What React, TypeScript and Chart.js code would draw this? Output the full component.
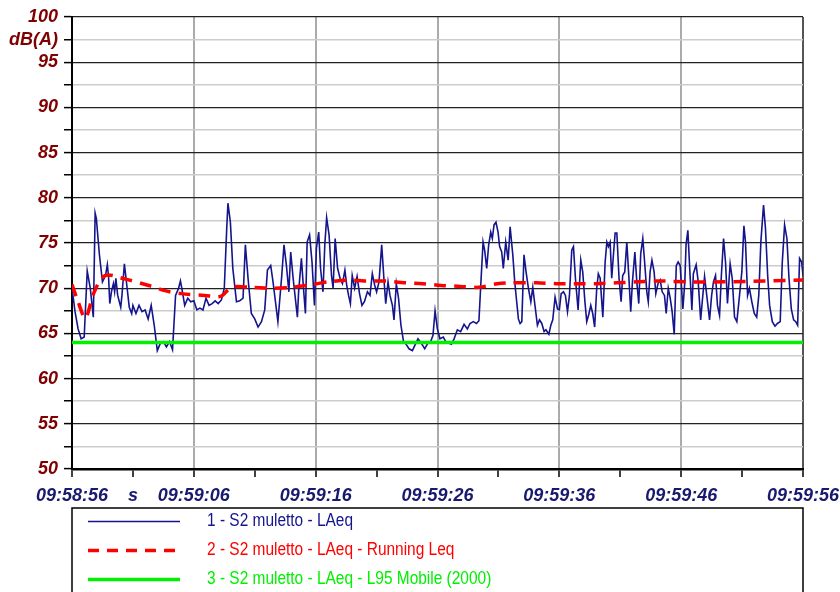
import React, { useEffect, useRef } from "react";
import { Chart, registerables } from "chart.js";

Chart.register(...registerables);

// ---- data ----
const xTickLabels = ["09:58:56", "09:59:06", "09:59:16", "09:59:26", "09:59:36", "09:59:46", "09:59:56"];
const xUnitLabel = "s";
const yUnitLabel = "dB(A)";
const seriesNames = [
  "1 - S2 muletto - LAeq",
  "2 - S2 muletto - LAeq - Running Leq",
  "3 - S2 muletto - LAeq - L95 Mobile (2000)",
];

// seconds after 09:58:56
const laeqTimes = [
  0, 0.25, 0.5, 0.75, 1.0, 1.25, 1.5, 1.75, 1.9, 2.0, 2.25, 2.5, 2.75, 2.9, 3.0, 3.1, 3.25, 3.4, 3.5, 3.6, 3.75,
  4.0, 4.1, 4.3, 4.5, 4.7, 4.9, 5.0, 5.25, 5.5, 5.75, 6.0, 6.25, 6.5, 6.75, 7.0, 7.25, 7.5, 7.75, 8.0, 8.25,
  8.5, 8.75, 8.9, 9.0, 9.25, 9.5, 9.75, 10.0, 10.25, 10.5, 10.75, 11.0, 11.25, 11.5, 11.75,
  12.0, 12.26, 12.5, 12.7, 12.8, 13.0, 13.2, 13.5, 13.77, 14.04, 14.23, 14.45, 14.72, 15.0, 15.27, 15.55, 15.82,
  16.04, 16.31, 16.5, 16.7, 16.9, 17.2, 17.4, 17.6, 17.8, 17.95, 18.15, 18.5, 18.6, 18.83, 19.0, 19.16, 19.3,
  19.5, 19.7, 19.9, 20.06, 20.25, 20.4, 20.6, 20.75, 20.9, 21.1, 21.3, 21.43, 21.6, 21.8, 22.0, 22.2, 22.4,
  22.55, 22.7, 22.85, 23.0, 23.2, 23.4, 23.6, 23.8,
  24.0, 24.25, 24.46, 24.65, 24.85, 25.0, 25.2, 25.42, 25.6, 25.75, 25.94, 26.1, 26.3, 26.43, 26.62, 26.8,
  27.0, 27.2, 27.47, 27.66, 27.94, 28.15, 28.4, 28.68, 28.95, 29.2, 29.44, 29.63, 29.8, 29.99, 30.2, 30.48,
  30.67, 30.95, 31.14, 31.36, 31.63, 31.9, 32.18, 32.45, 32.67, 32.94, 33.2, 33.4, 33.55, 33.74, 33.87, 34.04,
  34.2, 34.37, 34.5, 34.64, 34.8, 34.97, 35.1, 35.27, 35.4, 35.6, 35.8,
  35.96, 36.18, 36.34, 36.5, 36.64, 36.78, 36.92, 37.1, 37.27, 37.46, 37.66, 37.82, 38.0, 38.2, 38.37, 38.56,
  38.75, 38.9, 39.14, 39.3, 39.46, 39.65, 39.85, 40.0, 40.15, 40.34, 40.5, 40.67, 40.83, 41.02, 41.16, 41.32,
  41.54, 41.76, 41.92, 42.1, 42.25, 42.4, 42.58, 42.74, 42.9, 43.07, 43.2, 43.35, 43.57, 43.76, 43.9, 44.03,
  44.17, 44.3, 44.44, 44.58, 44.72, 44.9, 45.07, 45.2, 45.37, 45.54, 45.7, 45.86, 46.0, 46.2, 46.36, 46.52,
  46.68, 46.85, 47.0, 47.18, 47.3, 47.45, 47.6, 47.78, 47.92,
  48.1, 48.28, 48.44, 48.63, 48.77, 48.94, 49.1, 49.26, 49.43, 49.6, 49.75, 49.92, 50.14, 50.3, 50.4, 50.55,
  50.7, 50.88, 51.0, 51.23, 51.4, 51.6, 51.73, 51.92, 52.1, 52.33, 52.5, 52.65, 52.82, 52.98, 53.15, 53.3,
  53.48, 53.64, 53.8, 54.02, 54.19, 54.38, 54.57, 54.79, 54.98, 55.15, 55.28, 55.45, 55.6, 55.8, 56.0, 56.2,
  56.37, 56.54, 56.76, 56.92, 57.1, 57.26, 57.48, 57.7, 57.9, 58.13, 58.3, 58.49, 58.68, 58.85, 59.04, 59.23,
  59.4, 59.56, 59.72, 59.89, 60.0,
];
const laeqValues = [
  70.0, 67.4, 65.5, 64.4, 64.6, 71.9, 70.0, 66.8, 78.3, 77.7, 73.7, 70.7, 71.4, 72.6, 71.3, 68.3, 69.7, 70.5, 69.6, 71.1, 69.2,
  67.9, 69.2, 72.7, 70.3, 67.9, 67.2, 68.1, 67.2, 68.1, 67.4, 67.6, 66.6, 68.1, 65.9, 63.1, 63.9, 64.1, 63.5, 64.1, 63.2,
  69.2, 70.0, 70.8, 70.1, 68.1, 68.9, 68.5, 68.6, 67.6, 67.8, 67.6, 68.9, 68.1, 68.3, 68.6,
  68.3, 68.7, 70.0, 76.6, 79.4, 77.3, 72.2, 68.5, 68.6, 68.9, 74.8, 71.1, 67.2, 66.6, 65.7, 66.3, 67.6,
  72.0, 72.5, 70.7, 68.5, 66.3, 71.1, 74.8, 72.5, 69.6, 74.0, 71.1, 66.8, 69.6, 73.3, 70.0, 67.2, 75.1,
  75.9, 72.9, 68.1, 74.4, 76.2, 72.2, 69.6, 74.8, 77.8, 75.9, 71.4, 70.0, 75.5, 72.2, 71.1, 70.5, 72.0,
  70.3, 69.2, 68.3, 71.4, 70.0, 71.3, 69.4, 68.1,
  68.5, 69.6, 69.2, 71.6, 70.3, 69.6, 70.7, 74.8, 71.1, 68.3, 70.7, 69.2, 68.1, 66.5, 70.5, 68.9,
  65.9, 64.2, 63.7, 63.3, 63.1, 63.7, 64.4, 63.9, 63.3, 63.9, 64.1, 64.8, 67.5, 65.5, 64.4, 64.6,
  64.1, 63.9, 63.8, 64.4, 65.4, 65.2, 66.0, 65.5, 66.1, 66.3, 66.1, 66.4, 70.3, 75.1, 74.2, 72.2,
  74.8, 76.2, 75.5, 77.0, 77.3, 76.2, 74.6, 74.0, 72.2, 75.1, 73.1,
  76.8, 73.7, 70.7, 68.5, 66.6, 66.1, 66.3, 73.7, 71.8, 70.0, 68.5, 70.1, 68.1, 65.9, 66.5, 66.1,
  65.2, 65.4, 64.9, 65.9, 66.5, 69.0, 67.7, 67.6, 69.4, 69.6, 69.2, 67.4, 69.2, 74.2, 74.6, 71.1,
  67.6, 73.1, 71.8, 68.5, 66.3, 67.0, 68.1, 67.2, 65.7, 70.0, 71.6, 71.1, 66.8, 72.9, 75.1, 74.6,
  75.1, 71.1, 73.7, 76.1, 76.1, 71.1, 68.5, 71.4, 71.8, 75.1, 71.4, 67.4, 70.7, 74.0, 70.7, 68.3,
  73.8, 75.5, 72.9, 69.6, 68.5, 71.8, 73.1, 71.8, 69.4,
  70.5, 70.9, 69.6, 69.2, 67.2, 70.0, 68.9, 67.4, 64.9, 72.5, 72.9, 72.5, 67.7, 70.7, 74.8, 76.4,
  72.2, 67.6, 71.6, 72.6, 70.7, 66.5, 68.5, 71.3, 69.2, 66.5, 69.2, 70.7, 71.4, 68.1, 67.0, 71.4,
  75.5, 72.9, 68.3, 72.7, 71.1, 66.8, 66.3, 69.2, 71.8, 76.9, 75.1, 69.2, 70.0, 68.5, 67.2, 66.8,
  69.2, 75.1, 79.2, 76.6, 71.4, 68.1, 66.3, 65.8, 66.1, 66.3, 72.9, 77.0, 75.5, 71.1, 67.7, 66.5,
  66.3, 65.9, 73.3, 72.9, 71.4,
];

const runningTimes = [
  0, 0.5, 1.1, 1.8, 2.7, 4.4, 6.3, 7.7, 9.0, 10.9, 12.2, 13.1, 14.7, 16.4, 18.0, 19.7, 21.0, 22.7, 24.0,
  25.6, 27.3, 28.8, 30.3, 31.9, 33.4, 34.9, 36.0, 38.1, 39.8, 41.4, 43.1, 44.7, 46.4, 48.0, 50.7, 53.5, 56.8, 60,
];
const runningValues = [
  70.4, 68.5, 66.7, 69.5, 71.4, 71.0, 70.3, 69.7, 69.4, 69.2, 69.1, 70.1, 70.1, 70.0, 70.1, 70.4, 70.7, 70.9, 70.8,
  70.8, 70.6, 70.5, 70.3, 70.2, 70.1, 70.5, 70.6, 70.6, 70.5, 70.5, 70.5, 70.6, 70.7, 70.8, 70.7, 70.7, 70.8, 70.9,
];

const l95Times = [0, 60];
const l95Values = [64.0, 64.0];

const toPoints = (xs: number[], ys: number[]) => xs.map((x, i) => ({ x, y: ys[i] }));

const TICK_FONT_FAMILY = '"Liberation Sans", Arial, Helvetica, sans-serif';

const legendColors = ["#14148c", "#ff0000", "#00f000"];

const boxLegend = {
  id: "boxLegend",
  afterDraw(chart: any) {
    const ctx: CanvasRenderingContext2D = chart.ctx;
    const area = chart.chartArea;
    const top = area.bottom + 39;
    ctx.save();
    ctx.strokeStyle = "#000";
    ctx.lineWidth = 1.5;
    ctx.beginPath();
    ctx.moveTo(area.left, chart.height + 5);
    ctx.lineTo(area.left, top);
    ctx.lineTo(area.right, top);
    ctx.lineTo(area.right, chart.height + 5);
    ctx.stroke();

    // detect narrow font
    ctx.font = "18px monospace";
    const w0 = ctx.measureText("muletto LAeq").width;
    ctx.font = '18px "Liberation Sans Narrow", monospace';
    const w1 = ctx.measureText("muletto LAeq").width;
    const hasNarrow = Math.abs(w0 - w1) > 0.5;
    const fontStr = hasNarrow
      ? '18px "Liberation Sans Narrow", "Arial Narrow", sans-serif'
      : '18px "Liberation Sans", Arial, sans-serif';
    ctx.font = fontStr;
    const refW = ctx.measureText(seriesNames[0]).width;
    const sx = 146 / refW;

    const datasets = chart.data.datasets;
    datasets.forEach((ds: any, i: number) => {
      const y = top + 13 + i * 29;
      ctx.save();
      ctx.strokeStyle = ds.borderColor;
      ctx.lineWidth = ds.borderWidth;
      ctx.setLineDash(ds.borderDash && ds.borderDash.length ? [11, 8] : []);
      ctx.beginPath();
      ctx.moveTo(area.left + 16, y + 0.5);
      ctx.lineTo(area.left + 108, y + 0.5);
      ctx.stroke();
      ctx.restore();

      ctx.save();
      ctx.font = fontStr;
      ctx.fillStyle = ds.borderColor;
      ctx.textBaseline = "middle";
      ctx.translate(area.left + 135, y);
      ctx.scale(sx, 1);
      ctx.fillText(ds.label, 0, 0);
      ctx.restore();
    });
    ctx.restore();
  },
};

export default function App() {
  const canvasRef = useRef<HTMLCanvasElement | null>(null);

  useEffect(() => {
    const canvas = canvasRef.current;
    if (!canvas) return;
    const chart = new Chart(canvas, {
      type: "line",
      data: {
        datasets: [
          {
            label: seriesNames[0],
            data: toPoints(laeqTimes, laeqValues),
            borderColor: legendColors[0],
            borderWidth: 1.6,
            pointRadius: 0,
            tension: 0,
            order: 3,
          },
          {
            label: seriesNames[1],
            data: toPoints(runningTimes, runningValues),
            borderColor: legendColors[1],
            borderWidth: 3.5,
            borderDash: [12, 8],
            pointRadius: 0,
            tension: 0.3,
            order: 2,
          },
          {
            label: seriesNames[2],
            data: toPoints(l95Times, l95Values),
            borderColor: legendColors[2],
            borderWidth: 3.5,
            pointRadius: 0,
            order: 1,
          },
        ],
      },
      options: {
        animation: false,
        responsive: false,
        devicePixelRatio: 1,
        layout: { padding: { left: 0, right: 37, top: 17, bottom: 83 } },
        plugins: {
          legend: { display: false },
          tooltip: { enabled: false },
        },
        scales: {
          x: {
            type: "linear",
            min: 0,
            max: 60,
            afterFit: (scale: any) => {
              scale.height = 40;
              scale.paddingLeft = 0;
              scale.paddingRight = 0;
            },
            ticks: {
              stepSize: 5,
              autoSkip: false,
              maxRotation: 0,
              minRotation: 0,
              padding: 8,
              color: "#191970",
              font: { family: TICK_FONT_FAMILY, size: 18, style: "italic", weight: "bold" },
              callback: (value: any) => {
                const v = Math.round(Number(value) * 100) / 100;
                if (v % 10 === 0) return xTickLabels[v / 10];
                if (v === 5) return xUnitLabel;
                return "";
              },
            },
            grid: {
              drawTicks: true,
              tickLength: 8,
              tickColor: "#000",
              tickWidth: 1.5,
              color: (ctx: any) => {
                const v = ctx.tick ? ctx.tick.value : 0;
                if (v === 60) return "#555555";
                if (v % 10 === 0) return "#ababab";
                return "rgba(0,0,0,0)";
              },
              lineWidth: 2,
            },
            border: { color: "#000", width: 2.5 },
          },
          y: {
            min: 50,
            max: 100,
            afterFit: (scale: any) => {
              scale.width = 72;
              scale.paddingTop = 0;
              scale.paddingBottom = 0;
            },
            ticks: {
              stepSize: 2.5,
              autoSkip: false,
              padding: 6,
              color: "#7f0000",
              font: { family: TICK_FONT_FAMILY, size: 18, style: "italic", weight: "bold" },
              callback: (value: any) => {
                const v = Number(value);
                if (v % 5 === 0) return String(v);
                if (v === 97.5) return yUnitLabel;
                return "";
              },
            },
            grid: {
              drawTicks: true,
              tickLength: 8,
              tickColor: "#000",
              tickWidth: 1.5,
              color: (ctx: any) => {
                const v = ctx.tick ? ctx.tick.value : 0;
                return v % 5 === 0 ? "#222222" : "#cccccc";
              },
              lineWidth: (ctx: any) => {
                const v = ctx.tick ? ctx.tick.value : 0;
                return v % 5 === 0 ? 1.2 : 1.5;
              },
            },
            border: { color: "#000", width: 2 },
          },
        },
      },
      plugins: [boxLegend],
    });
    return () => chart.destroy();
  }, []);

  return (
    <div style={{ position: "absolute", left: 0, top: 0, width: 840, height: 592, background: "#fff", overflow: "hidden" }}>
      <canvas ref={canvasRef} width={840} height={592} style={{ display: "block", width: 840, height: 592 }} />
    </div>
  );
}
